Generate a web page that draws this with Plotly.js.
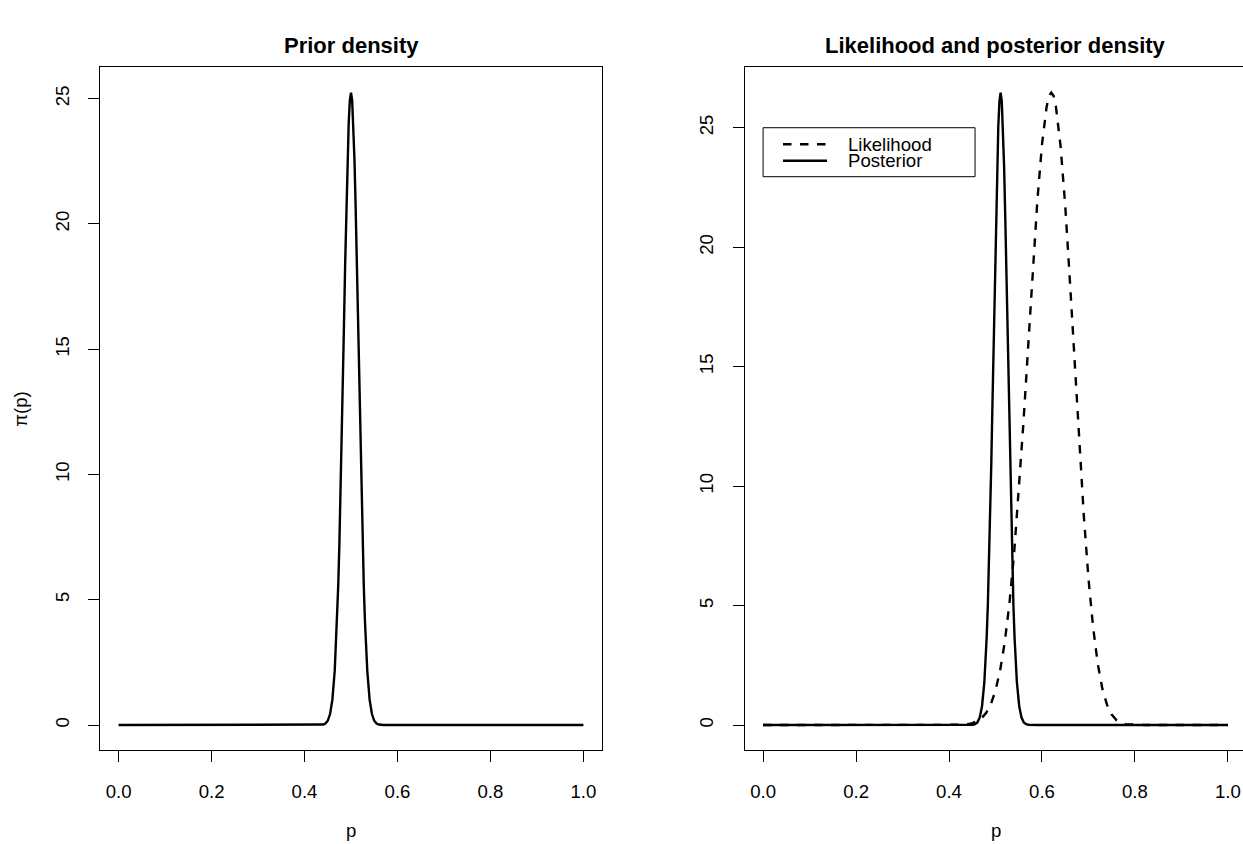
<!DOCTYPE html>
<html><head><meta charset="utf-8">
<script src="https://cdn.plot.ly/plotly-3.0.1.min.js"></script>
<style>html,body{margin:0;padding:0;background:#fff}</style>
</head><body>
<div id="chart" style="width:1243px;height:844px"></div>
<script>
// ---- data ----
const priorP = [0, 0.42, 0.43, 0.435, 0.44, 0.445, 0.45, 0.455, 0.46, 0.465, 0.47,
  0.4725, 0.475, 0.4775, 0.48, 0.4825, 0.485, 0.4875, 0.49, 0.4925, 0.495, 0.4975, 0.5,
  0.5025, 0.505, 0.5075, 0.51, 0.5125, 0.515, 0.5175, 0.52, 0.5225, 0.525, 0.5275,
  0.53, 0.535, 0.54, 0.545, 0.55, 0.555, 0.56, 0.565, 0.57, 0.58, 1];
const priorD = [0, 0, 0.001, 0.005, 0.019, 0.059, 0.169, 0.437, 1.02, 2.17, 4.16,
  5.55, 7.22, 9.16, 11.33, 13.67, 16.08, 18.46, 20.66, 22.55, 24.01, 24.93, 25.24,
  24.93, 24.01, 22.55, 20.66, 18.46, 16.08, 13.67, 11.33, 9.16, 7.22, 5.55,
  4.16, 2.17, 1.02, 0.437, 0.169, 0.059, 0.019, 0.005, 0.001, 0, 0];

const postP = [0, 0.431, 0.441, 0.446, 0.451, 0.456, 0.461, 0.466, 0.471, 0.476, 0.4785,
  0.481, 0.4835, 0.486, 0.4885, 0.491, 0.4935, 0.496, 0.4985, 0.501, 0.5035, 0.506, 0.5085, 0.511,
  0.5135, 0.516, 0.5185, 0.521, 0.5235, 0.526, 0.5285, 0.531, 0.5335, 0.536, 0.5385, 0.541,
  0.5435, 0.546, 0.551, 0.556, 0.561, 0.566, 0.571, 0.576, 0.581, 0.591, 1];
const postD = [0, 0, 0.001, 0.002, 0.010, 0.034, 0.109, 0.309, 0.786, 1.79, 2.60,
  3.66, 5.02, 6.70, 8.70, 10.99, 13.50, 16.14, 18.78, 21.25, 23.39, 25.05, 26.11, 26.47,
  26.11, 25.05, 23.39, 21.25, 18.78, 16.14, 13.50, 10.99, 8.70, 6.70, 5.02, 3.66,
  2.60, 1.79, 0.786, 0.309, 0.109, 0.034, 0.010, 0.002, 0.001, 0, 0];

const likP = [0, 0.38, 0.40, 0.42, 0.44, 0.45, 0.46, 0.47, 0.48, 0.49, 0.50, 0.51, 0.52,
  0.53, 0.54, 0.55, 0.56, 0.57, 0.58, 0.59, 0.60, 0.61, 0.615, 0.62, 0.625, 0.63, 0.64,
  0.65, 0.66, 0.67, 0.68, 0.69, 0.70, 0.71, 0.72, 0.73, 0.74, 0.75, 0.76, 0.77, 0.78,
  0.80, 0.82, 1];
const likD = [0, 0, 0.001, 0.008, 0.039, 0.079, 0.153, 0.285, 0.51, 0.873, 1.443, 2.29, 3.48,
  5.09, 7.17, 9.70, 12.62, 15.76, 18.96, 21.92, 24.30, 25.88, 26.33, 26.47, 26.33, 25.88, 24.23,
  21.75, 18.61, 15.22, 11.84, 8.76, 6.14, 4.09, 2.56, 1.51, 0.84, 0.434, 0.209, 0.093, 0.038,
  0.005, 0, 0];

const xTickVals = [0, 0.2, 0.4, 0.6, 0.8, 1.0];
const xTickText = ['0.0', '0.2', '0.4', '0.6', '0.8', '1.0'];
const yTickVals = [0, 5, 10, 15, 20, 25];
const yTickText = ['0', '5', '10', '15', '20', '25'];
const seriesNames = ['Likelihood', 'Posterior'];
const panelTitles = ['Prior density', 'Likelihood and posterior density'];
const xLabel = 'p';
const yLabel = 'π(p)';

// ---- layout geometry (pixels) ----
const W = 1243, H = 844;
const FONT = 'Liberation Sans, Arial, Helvetica, sans-serif';
const boxTop = 67.3, boxBot = 750.3;
const L1 = 100, R1 = 602, L2 = 744.5;
const pxPerX = (R1 - L1) / 1.08;
const fy = py => 1 - py / H;
const fx = px => px / W;

const m1 = Math.max(...priorD);
const m2 = Math.max(Math.max(...postD), Math.max(...likD));

const lineStyle = {color: '#000', width: 2.4};

const traces = [
  {x: priorP, y: priorD, type: 'scatter', mode: 'lines', line: lineStyle,
   xaxis: 'x', yaxis: 'y', showlegend: false, name: 'Prior'},
  {x: likP, y: likD, type: 'scatter', mode: 'lines',
   line: {color: '#000', width: 2.4, dash: '8.5px,8.5px'},
   xaxis: 'x2', yaxis: 'y2', showlegend: false, name: seriesNames[0]},
  {x: postP, y: postD, type: 'scatter', mode: 'lines', line: lineStyle,
   xaxis: 'x2', yaxis: 'y2', showlegend: false, name: seriesNames[1]}
];

const tickFont = {family: FONT, size: 18.6, color: '#000'};
const axCommon = {
  showgrid: false, zeroline: false, showline: true, linecolor: '#000', linewidth: 1,
  ticks: 'outside', ticklen: 11, tickwidth: 1, tickcolor: '#000', tickfont: tickFont,
  fixedrange: true
};
const yDom = [fy(boxBot), fy(boxTop)];

const layout = {
  width: W, height: H,
  margin: {l: 0, r: 0, t: 0, b: 0, pad: 0},
  paper_bgcolor: '#fff', plot_bgcolor: '#fff',
  showlegend: false,
  font: {family: FONT, color: '#000'},
  xaxis: Object.assign({}, axCommon, {
    domain: [fx(L1), fx(R1)], range: [-0.04, 1.04], anchor: 'y', mirror: true,
    tickmode: 'array', tickvals: xTickVals, ticktext: xTickText, ticklabelstandoff: 13}),
  yaxis: Object.assign({}, axCommon, {
    domain: yDom, range: [-0.04 * m1, 1.04 * m1], anchor: 'x', mirror: true,
    tickmode: 'array', tickvals: yTickVals, ticktext: yTickText, tickangle: -90,
    ticklabelstandoff: 12}),
  xaxis2: Object.assign({}, axCommon, {
    domain: [fx(L2), 1], range: [-0.04, -0.04 + (W - L2) / pxPerX], anchor: 'y2', mirror: true,
    tickmode: 'array', tickvals: xTickVals, ticktext: xTickText, ticklabelstandoff: 13}),
  yaxis2: Object.assign({}, axCommon, {
    domain: yDom, range: [-0.04 * m2, 1.04 * m2], anchor: 'x2', mirror: false,
    tickmode: 'array', tickvals: yTickVals, ticktext: yTickText, tickangle: -90,
    ticklabelstandoff: 12}),
  shapes: [
    // legend box and line samples (drawn in the right panel's data coordinates)
    {type: 'rect', xref: 'x2', yref: 'y2', x0: 0, x1: 0.456, y0: 22.95, y1: 25,
     line: {color: '#000', width: 1}, fillcolor: 'rgba(0,0,0,0)'},
    {type: 'line', xref: 'x2', yref: 'y2', x0: 0.0428, x1: 0.1375, y0: 24.31, y1: 24.31,
     line: {color: '#000', width: 2.4, dash: '8.5px,8.5px'}},
    {type: 'line', xref: 'x2', yref: 'y2', x0: 0.0428, x1: 0.1375, y0: 23.62, y1: 23.62,
     line: {color: '#000', width: 2.4}}
  ],
  annotations: [
    {text: '<b>' + panelTitles[0] + '</b>', xref: 'paper', yref: 'paper',
     x: fx((L1 + R1) / 2), y: fy(45), xanchor: 'center', yanchor: 'middle', showarrow: false,
     font: {family: FONT, size: 22, color: '#000'}},
    {text: '<b>' + panelTitles[1] + '</b>', xref: 'paper', yref: 'paper',
     x: fx((L2 + L2 + (R1 - L1)) / 2), y: fy(45), xanchor: 'center', yanchor: 'middle', showarrow: false,
     font: {family: FONT, size: 22, color: '#000'}},
    {text: xLabel, xref: 'paper', yref: 'paper', x: fx((L1 + R1) / 2), y: fy(830),
     xanchor: 'center', yanchor: 'middle', showarrow: false, font: tickFont},
    {text: xLabel, xref: 'paper', yref: 'paper', x: fx((L2 + L2 + (R1 - L1)) / 2), y: fy(830),
     xanchor: 'center', yanchor: 'middle', showarrow: false, font: tickFont},
    {text: yLabel, xref: 'paper', yref: 'paper', x: fx(21), y: fy((boxTop + boxBot) / 2),
     xanchor: 'center', yanchor: 'middle', textangle: -90, showarrow: false, font: tickFont},
    {text: seriesNames[0], xref: 'x2', yref: 'y2', x: 0.178, y: 24.31,
     xanchor: 'left', yanchor: 'middle', showarrow: false, font: tickFont},
    {text: seriesNames[1], xref: 'x2', yref: 'y2', x: 0.178, y: 23.62,
     xanchor: 'left', yanchor: 'middle', showarrow: false, font: tickFont}
  ]
};

Plotly.newPlot('chart', traces, layout, {displayModeBar: false, staticPlot: true});
</script>
</body></html>
